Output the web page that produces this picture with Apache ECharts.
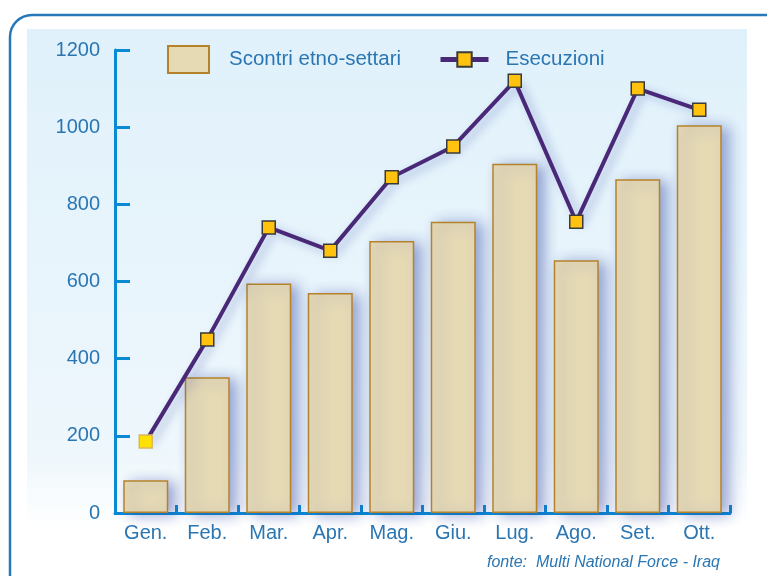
<!DOCTYPE html>
<html>
<head>
<meta charset="utf-8">
<script src="https://cdn.jsdelivr.net/npm/echarts@6/dist/echarts.min.js"></script>
<style>
  html, body { margin: 0; padding: 0; background: #fff; }
  #chart { width: 767px; height: 576px; }
</style>
</head>
<body>
<div id="chart"></div>
<script>
// dati
const months = ['Gen.', 'Feb.', 'Mar.', 'Apr.', 'Mag.', 'Giu.', 'Lug.', 'Ago.', 'Set.', 'Ott.']
const scontri = [85, 352, 595, 570, 705, 755, 905, 655, 865, 1005]
const esecuzioni = [185, 450, 740, 680, 870, 950, 1120, 755, 1100, 1045]
const yTicks = [0, 200, 400, 600, 800, 1000, 1200]

const blue = '#2a76b3'
const axisBlue = '#0a8ad4'
const font = 'Liberation Sans, Arial, sans-serif'

const chart = echarts.init(document.getElementById('chart'))
const option = {
  animation: false,
  backgroundColor: '#fff',
  graphic: [
    {
      type: 'rect',
      z: -10,
      shape: { x: 27, y: 29, width: 720, height: 500 },
      style: {
        fill: new echarts.graphic.LinearGradient(0, 0, 0, 1, [
          { offset: 0, color: '#e0f1fb' },
          { offset: 0.85, color: '#eef7fc' },
          { offset: 1, color: '#ffffff' }
        ])
      }
    },
    {
      type: 'rect',
      z: -5,
      shape: { x: 10, y: 15, width: 800, height: 620, r: 22 },
      style: { fill: 'none', stroke: '#2878b8', lineWidth: 2.5 }
    },
    {
      type: 'text',
      left: 487,
      top: 555,
      style: {
        text: 'fonte:  Multi National Force - Iraq',
        fill: blue,
        font: 'italic 16px ' + font
      }
    }
  ],
  legend: [
    {
      data: [{ name: 'Scontri etno-settari', icon: 'rect' }],
      left: 167,
      top: 45,
      padding: 0,
      itemWidth: 41,
      itemHeight: 27,
      textStyle: { color: blue, fontSize: 20.5, fontFamily: font, padding: [0, 0, 0, 15] }
    },
    {
      data: ['Esecuzioni'],
      left: 438,
      top: 49,
      padding: 0,
      itemWidth: 48,
      itemHeight: 18,
      lineStyle: { width: 5 },
      textStyle: { color: blue, fontSize: 20.5, fontFamily: font, padding: [0, 0, 0, 12] }
    }
  ],
  grid: {
    left: 115,
    right: 37,
    top: 50,
    bottom: 63
  },
  xAxis: {
    type: 'category',
    data: months,
    axisLine: { lineStyle: { color: axisBlue, width: 3 } },
    axisTick: { show: true, inside: true, length: 8, lineStyle: { color: axisBlue, width: 3 } },
    axisLabel: { color: blue, fontSize: 20, fontFamily: font, margin: 10 },
    splitLine: { show: false }
  },
  yAxis: {
    type: 'value',
    min: 0,
    max: 1200,
    interval: 200,
    axisLine: { show: true, lineStyle: { color: axisBlue, width: 3 } },
    axisTick: { show: true, inside: true, length: 15, lineStyle: { color: axisBlue, width: 3 } },
    axisLabel: {
      color: blue,
      fontSize: 20,
      fontFamily: font,
      margin: 15,
      verticalAlign: 'middle',
      padding: [0, 0, 7, 0],
      formatter: (v) => (yTicks.includes(v) ? String(v) : '')
    },
    splitLine: { show: false }
  },
  series: [
    {
      name: 'Scontri etno-settari',
      type: 'bar',
      data: scontri,
      barWidth: 45,
      itemStyle: {
        color: '#e6dab5',
        borderColor: '#b5822a',
        borderWidth: 1.5,
        shadowColor: 'rgba(40, 60, 160, 0.45)',
        shadowBlur: 14,
        shadowOffsetX: 7,
        shadowOffsetY: 2
      }
    },
    {
      name: 'Esecuzioni',
      type: 'line',
      data: esecuzioni.map((v, i) => (i === 0
        ? { value: v, itemStyle: { color: '#ffe100', borderColor: '#d9b860' } }
        : v)),
      z: 5,
      symbol: 'rect',
      symbolSize: 13,
      lineStyle: {
        color: '#4a2878',
        width: 4,
        shadowColor: 'rgba(40, 60, 160, 0.35)',
        shadowBlur: 10,
        shadowOffsetX: 5,
        shadowOffsetY: 3
      },
      itemStyle: {
        color: '#ffc20e',
        borderColor: '#3a3a3a',
        borderWidth: 1.5
      }
    }
  ]
}
chart.setOption(option)
</script>
</body>
</html>
